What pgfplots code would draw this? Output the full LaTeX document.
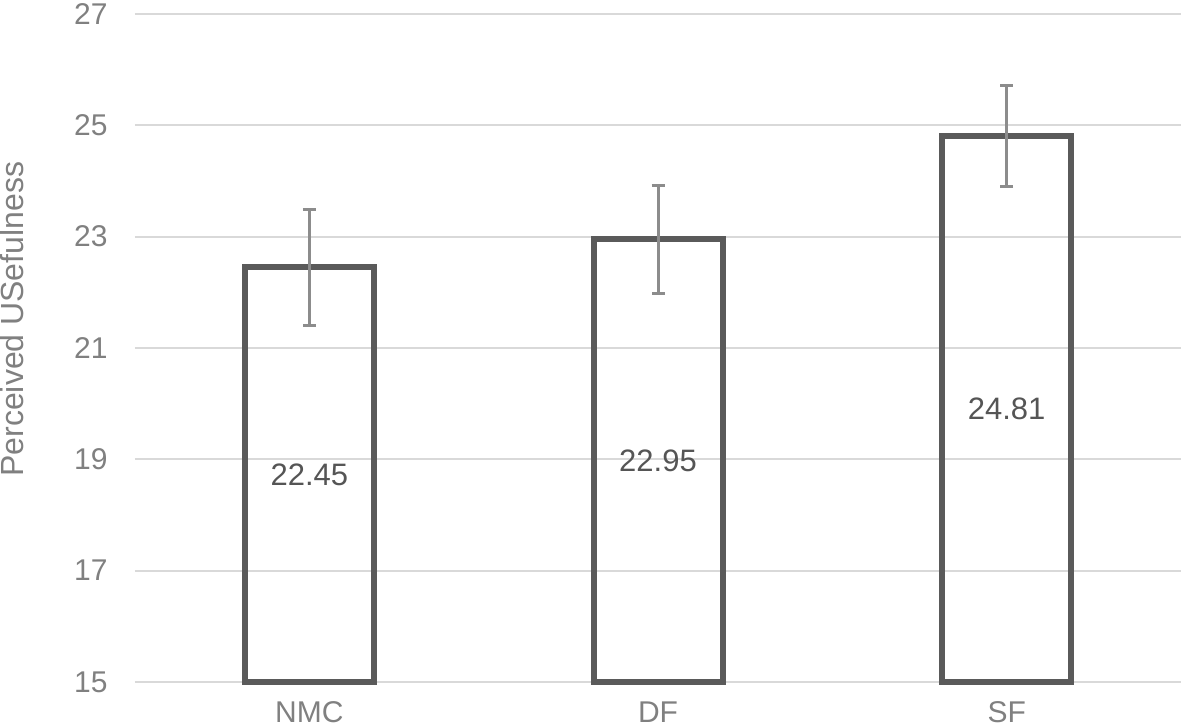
\documentclass[border=0pt]{standalone}
\usepackage{fontspec}
\setmainfont{Liberation Sans}
\usepackage{pgfplots}
\pgfplotsset{compat=1.18}

\definecolor{barline}{HTML}{5A5A5A}
\definecolor{errcol}{HTML}{8C8C8C}
\definecolor{gridcol}{HTML}{D9D9D9}
\definecolor{tickcol}{HTML}{808080}
\definecolor{valcol}{HTML}{555555}

\begin{document}
\begin{tikzpicture}
% picture frame, 1 px of the reference = 0.5pt
\useasboundingbox (-67.5pt,-22.5pt) rectangle (523pt,341pt);
\begin{axis}[
    anchor=south west, at={(0,0)},
    scale only axis,
    width=523pt, height=334pt,
    ymin=15, ymax=27,
    ytick={15,17,...,27},
    xmin=-0.5, xmax=2.5,
    xtick=data,
    xticklabels={NMC,DF,SF},
    major tick length=0pt,
    axis line style={draw=none},
    ymajorgrids,
    grid style={gridcol, line width=1pt},
    /pgf/number format/assume math mode=true,
    tick label style={font=\fontsize{15}{18}\selectfont, text=tickcol},
    yticklabel style={anchor=east, inner sep=0pt, xshift=-13.5pt},
    xticklabel style={anchor=north, inner sep=0pt, yshift=-9.5pt},
    ybar, bar width=64.5pt, bar shift=0pt,
    clip=false,
]
\addplot[draw=barline, line width=3pt, fill=none,
    error bars/.cd, y dir=both, y explicit,
    error bar style={errcol, line width=1.5pt},
    error mark options={errcol, line width=1.5pt, mark size=3.25pt, rotate=90},
] coordinates {
    (0,22.45) +- (0,1.04)
    (1,22.95) +- (0,0.97)
    (2,24.81) +- (0,0.90)
};
% value labels in the middle of each bar
\addplot[draw=none, fill=none,
    nodes near coords,
    point meta=explicit symbolic,
    every node near coord/.style={anchor=center, text=valcol,
        font=\fontsize{15.5}{18}\selectfont},
] coordinates {
    (0,18.725) [22.45]
    (1,18.975) [22.95]
    (2,19.905) [24.81]
};
\node[rotate=90, text=tickcol, font=\fontsize{16}{19}\selectfont]
    at (axis description cs:-0.1176,0.543) {Perceived USefulness};
\end{axis}
\end{tikzpicture}
\end{document}
